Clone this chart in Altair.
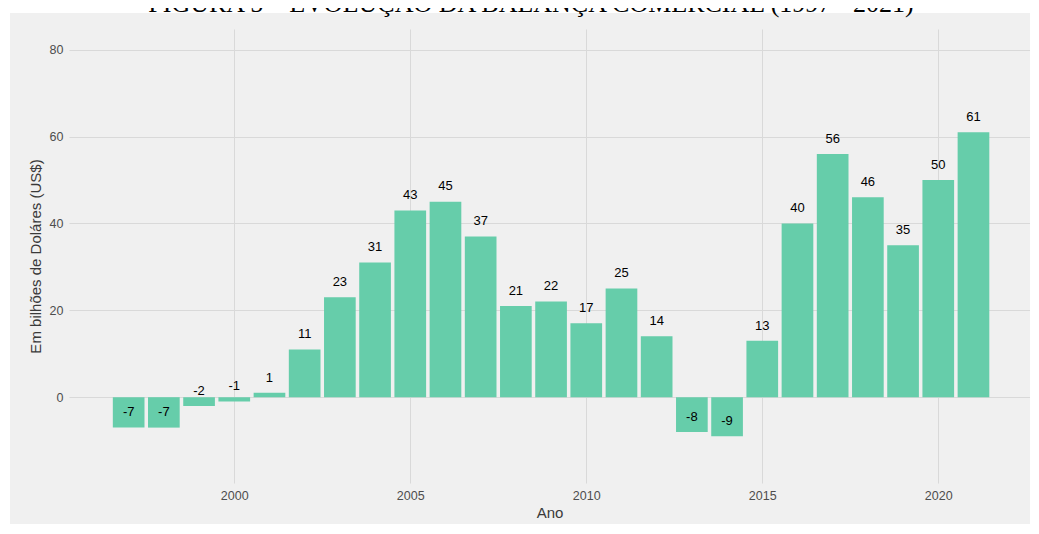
import altair as alt
import pandas as pd

anos = list(range(1997, 2022))
valores = [-7, -7, -2, -1, 1, 11, 23, 31, 43, 45, 37, 21, 22, 17, 25, 14,
           -8, -9, 13, 40, 56, 46, 35, 50, 61]
x_ticks = [2000, 2005, 2010, 2015, 2020]
y_ticks = [0, 20, 40, 60, 80]
titulo = ["FIGURA 5 – EVOLUÇÃO DA BALANÇA COMERCIAL (1997 - 2021)"]

df = pd.DataFrame({"ano": anos, "valor": valores})
df_t = pd.DataFrame({"t": titulo})

BG = "#F0F0F0"
W, H = 961, 454
xscale = alt.Scale(domain=[1995.305, 2022.606], nice=False, zero=False)
yscale = alt.Scale(domain=[-19.75, 84.75], nice=False, zero=False)

deco = alt.Chart(df_t)

strip_top = deco.mark_rect(color="white").encode(
    x=alt.value(-61), x2=alt.value(W + 2), y=alt.value(-21), y2=alt.value(-16)
)
strip_left = deco.mark_rect(color="white").encode(
    x=alt.value(-61), x2=alt.value(-59), y=alt.value(-21), y2=alt.value(H + 50)
)
title_text = deco.mark_text(
    font="Liberation Serif", fontSize=26, color="black", align="center",
    baseline="alphabetic"
).encode(x=alt.value(462), y=alt.value(-17), text="t:N")

base = alt.Chart(df)

bars = base.transform_calculate(
    x0="datum.ano - 0.45", x1="datum.ano + 0.45", zero="0"
).mark_rect(color="#66CDAA").encode(
    x=alt.X("x0:Q", scale=xscale, title="Ano",
            axis=alt.Axis(values=x_ticks, format="d", grid=True, ticks=False,
                          tickSize=0, domain=False, labelPadding=6,
                          titlePadding=4)),
    x2="x1:Q",
    y=alt.Y("valor:Q", scale=yscale, title="Em bilhões de Doláres (US$)",
            axis=alt.Axis(values=y_ticks, grid=True, ticks=False, tickSize=0,
                          domain=False, labelPadding=6, titlePadding=6)),
    y2="zero:Q",
)

labels = base.transform_calculate(
    ly="datum.valor + 3.5", lab="'' + datum.valor"
).mark_text(
    baseline="middle", align="center", fontSize=13, color="black",
    font="Liberation Sans"
).encode(
    x=alt.X("ano:Q", scale=xscale),
    y=alt.Y("ly:Q", scale=yscale),
    text="lab:N",
)

chart = alt.layer(strip_top, strip_left, bars, labels, title_text).properties(
    width=W, height=H,
    autosize=alt.AutoSizeParams(type="none"),
    padding={"left": 61, "top": 21, "right": 0, "bottom": 41},
).configure(background=BG).configure_view(
    fill=BG, stroke=None
).configure_axis(
    labelFont="Liberation Sans", labelFontSize=12.5, labelColor="#4D4D4D",
    titleFont="Liberation Sans", titleFontSize=15, titleColor="#3A3A3A",
    titleFontWeight="normal", gridColor="#D9D9D9", gridWidth=1,
)

chart.save("out.html", embed_options={"renderer": "svg", "actions": False})
